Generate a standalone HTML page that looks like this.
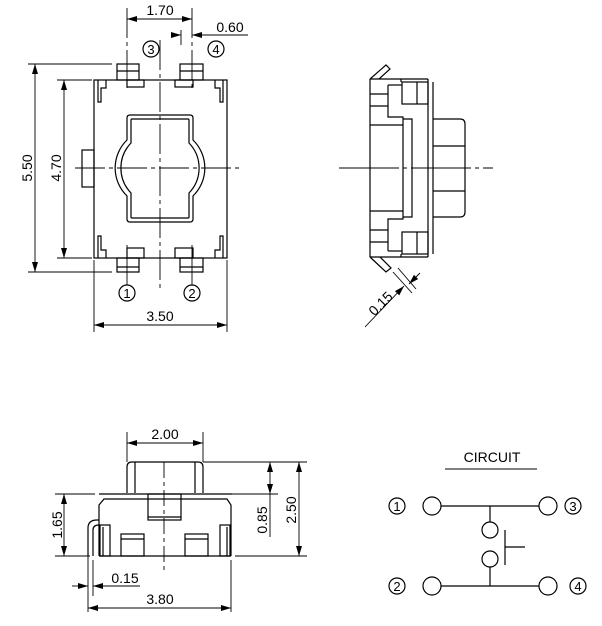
<!DOCTYPE html>
<html><head><meta charset="utf-8"><style>
html,body{margin:0;padding:0;background:#fff;}
svg{display:block;}
text{font-family:"Liberation Sans",sans-serif;font-size:14px;fill:#000;}
.c{font-size:13px;}
</style></head><body>
<svg width="602" height="626" viewBox="0 0 602 626" xmlns="http://www.w3.org/2000/svg">
<defs>
<marker id="a" viewBox="0 0 10 6" refX="10" refY="3" markerWidth="10" markerHeight="6" orient="auto-start-reverse" markerUnits="userSpaceOnUse"><path d="M0,0L10,3L0,6z" fill="#000"/></marker>
</defs>
<g fill="none" stroke="#000" stroke-width="1.2">
<!-- TOP VIEW -->
<rect x="94" y="80" width="133" height="178"/>
<rect x="117" y="64" width="22" height="16"/><line x1="117" y1="71" x2="139" y2="71"/>
<rect x="180" y="64" width="23" height="16"/><line x1="180" y1="71" x2="203" y2="71"/>
<rect x="127" y="80" width="17" height="7"/><rect x="175" y="80" width="18" height="7"/>
<rect x="117" y="258" width="22" height="14"/><line x1="117" y1="267" x2="139" y2="267"/>
<rect x="180" y="258" width="23" height="14"/><line x1="180" y1="267" x2="203" y2="267"/>
<rect x="127" y="248" width="17" height="10"/><rect x="175" y="248" width="18" height="10"/>
<polyline points="98,80 98,102 101,102 101,88 106,88 106,80"/>
<polyline points="223,80 223,102 220,102 220,88 215,88 215,80"/>
<polyline points="98,258 98,236 101,236 101,250 106,250 106,258"/>
<polyline points="223,258 223,236 220,236 220,250 215,250 215,258"/>
<rect x="82" y="150" width="12" height="37"/>
<path d="M130,115 H190 Q193,115 193,118 V140 A39,39 0 0 1 193,196 V219 Q193,222 190,222 H130 Q127,222 127,219 V196 A39,39 0 0 1 127,140 V118 Q127,115 130,115 Z"/>
<path d="M132,119 H188 Q189,119 189,120 V143 A36,36 0 0 1 189,193 V217 Q189,218 188,218 H132 Q131,218 131,217 V193 A36,36 0 0 1 131,143 V120 Q131,119 132,119 Z"/>
<g stroke-width="0.9">
<line x1="160" y1="40" x2="160" y2="292" stroke-dasharray="30,4,4,4"/>
<line x1="75" y1="168" x2="240" y2="168" stroke-dasharray="30,4,4,4"/>
<line x1="127" y1="8" x2="127" y2="90" stroke-dasharray="30,4,4,4"/>
<line x1="192" y1="8" x2="192" y2="90" stroke-dasharray="30,4,4,4"/>
<line x1="127" y1="245" x2="127" y2="285"/>
<line x1="192" y1="245" x2="192" y2="285"/>
<line x1="181" y1="30" x2="181" y2="45"/>
<line x1="127" y1="19" x2="192" y2="19" marker-start="url(#a)" marker-end="url(#a)"/>
<line x1="171" y1="35" x2="181" y2="35" marker-end="url(#a)"/>
<line x1="202" y1="35" x2="192" y2="35" marker-end="url(#a)"/>
<line x1="202" y1="35" x2="248" y2="35"/>
<line x1="28" y1="64" x2="112" y2="64"/><line x1="28" y1="272" x2="112" y2="272"/>
<line x1="35" y1="64" x2="35" y2="272" marker-start="url(#a)" marker-end="url(#a)"/>
<line x1="57" y1="80" x2="92" y2="80"/><line x1="57" y1="258" x2="92" y2="258"/>
<line x1="64" y1="80" x2="64" y2="258" marker-start="url(#a)" marker-end="url(#a)"/>
<line x1="94" y1="260" x2="94" y2="332"/><line x1="227" y1="260" x2="227" y2="332"/>
<line x1="94" y1="325" x2="227" y2="325" marker-start="url(#a)" marker-end="url(#a)"/>
</g>
<circle cx="151" cy="49" r="8"/><circle cx="216" cy="49" r="8"/>
<circle cx="127" cy="293" r="8"/><circle cx="192" cy="293" r="8"/>

<!-- SIDE VIEW -->
<line x1="370" y1="79" x2="370" y2="257"/>
<line x1="370" y1="79" x2="428" y2="79"/><line x1="370" y1="257" x2="428" y2="257"/>
<line x1="428" y1="79" x2="428" y2="257"/>
<line x1="433" y1="82" x2="433" y2="254"/>
<line x1="401" y1="79" x2="401" y2="82"/><line x1="401" y1="254" x2="401" y2="257"/>
<rect x="402" y="82" width="26" height="22"/><line x1="417" y1="82" x2="417" y2="104"/>
<rect x="402" y="232" width="26" height="22"/><line x1="417" y1="232" x2="417" y2="254"/>
<polyline points="388,85 388,117 403,117 403,219 388,219 388,251"/>
<polyline points="402,85 388,85"/><polyline points="402,251 388,251"/>
<polyline points="403,119 412,119 412,217 403,217"/>
<line x1="370" y1="125" x2="403" y2="125"/><line x1="370" y1="211" x2="403" y2="211"/>
<line x1="370" y1="94" x2="388" y2="94"/><line x1="370" y1="106" x2="388" y2="106"/>
<line x1="370" y1="230" x2="388" y2="230"/><line x1="370" y1="242" x2="388" y2="242"/>
<path d="M433,119 H460 Q465,119 465,124 V212 Q465,217 460,217 H433"/>
<line x1="433" y1="146" x2="465" y2="146"/><line x1="433" y1="191" x2="465" y2="191"/>
<polyline points="370,79 386,65 390,69 379,79"/>
<polyline points="370,257 386,272 391,268 380,257"/>
<g stroke-width="0.9">
<line x1="339" y1="168" x2="493" y2="168" stroke-dasharray="60,4,4,4"/>
<line x1="393" y1="272" x2="412" y2="293"/><line x1="398" y1="268" x2="416" y2="289"/>
<line x1="365" y1="327" x2="404" y2="286" marker-end="url(#a)"/>
<line x1="420" y1="273" x2="409" y2="284" marker-end="url(#a)"/>
</g>

<!-- FRONT VIEW -->
<path d="M127,493 V467 Q127,462 132,462 H198 Q203,462 203,467 V493"/>
<line x1="135" y1="462" x2="135" y2="493"/><line x1="195" y1="462" x2="195" y2="493"/>
<path d="M99,556 V505 L104,499 H227 L231,505 V556"/>
<line x1="99" y1="494" x2="232" y2="494"/>
<line x1="99" y1="556" x2="231" y2="556"/>
<rect x="148" y="494" width="33" height="26"/><line x1="148" y1="517" x2="181" y2="517"/>
<rect x="121" y="534" width="23" height="22"/><line x1="121" y1="539" x2="144" y2="539"/>
<rect x="185" y="534" width="23" height="22"/><line x1="185" y1="539" x2="208" y2="539"/>
<rect x="100" y="525" width="10" height="31"/><line x1="103" y1="527" x2="103" y2="556"/>
<rect x="220" y="525" width="10" height="31"/><line x1="227" y1="527" x2="227" y2="556"/>
<path d="M88,556 V528 Q88,520 97,520 H99"/><path d="M93,556 V530 Q93,525 99,525"/>
<g stroke-width="0.9">
<line x1="164" y1="462" x2="164" y2="573" stroke-dasharray="16,4,4,4"/>
<line x1="127" y1="432" x2="127" y2="462"/><line x1="203" y1="432" x2="203" y2="462"/>
<line x1="127" y1="443" x2="203" y2="443" marker-start="url(#a)" marker-end="url(#a)"/>
<line x1="203" y1="462" x2="307" y2="462"/>
<line x1="232" y1="494" x2="278" y2="494"/>
<line x1="235" y1="556" x2="307" y2="556"/>
<line x1="55" y1="494" x2="95" y2="494"/><line x1="55" y1="556" x2="90" y2="556"/>
<line x1="270" y1="462" x2="270" y2="494" marker-start="url(#a)" marker-end="url(#a)"/>
<line x1="270" y1="494" x2="270" y2="537"/>
<line x1="299" y1="462" x2="299" y2="556" marker-start="url(#a)" marker-end="url(#a)"/>
<line x1="64" y1="494" x2="64" y2="556" marker-start="url(#a)" marker-end="url(#a)"/>
<line x1="88" y1="556" x2="88" y2="612"/><line x1="93" y1="560" x2="93" y2="596"/>
<line x1="72" y1="586" x2="88" y2="586" marker-end="url(#a)"/>
<line x1="140" y1="586" x2="93" y2="586" marker-end="url(#a)"/>
<line x1="231" y1="560" x2="231" y2="612"/>
<line x1="88" y1="608" x2="231" y2="608" marker-start="url(#a)" marker-end="url(#a)"/>
</g>

<!-- CIRCUIT -->
<line x1="445" y1="469" x2="537" y2="469" stroke-width="0.9"/>
<circle cx="432" cy="506" r="9"/><circle cx="548" cy="506" r="9"/>
<circle cx="432" cy="586" r="9"/><circle cx="548" cy="586" r="9"/>
<circle cx="490" cy="530" r="8"/><circle cx="490" cy="559" r="8"/>
<line x1="441" y1="506" x2="539" y2="506"/><line x1="441" y1="586" x2="539" y2="586"/>
<line x1="490" y1="506" x2="490" y2="522"/><line x1="490" y1="567" x2="490" y2="586"/>
<line x1="505" y1="530" x2="505" y2="565"/><line x1="505" y1="547" x2="525" y2="547"/>
<circle cx="397" cy="506" r="8"/><circle cx="573" cy="506" r="8"/>
<circle cx="397" cy="586" r="8"/><circle cx="578" cy="586" r="8"/>
</g>
<g>
<text x="160" y="15" text-anchor="middle">1.70</text>
<text x="230" y="32" text-anchor="middle">0.60</text>
<text class="c" x="151" y="54" text-anchor="middle">3</text>
<text class="c" x="216" y="54" text-anchor="middle">4</text>
<text class="c" x="127" y="298" text-anchor="middle">1</text>
<text class="c" x="192" y="298" text-anchor="middle">2</text>
<text x="160" y="321" text-anchor="middle">3.50</text>
<text transform="translate(32,168) rotate(-90)" text-anchor="middle">5.50</text>
<text transform="translate(61,168) rotate(-90)" text-anchor="middle">4.70</text>
<text transform="translate(384,307) rotate(-45)" text-anchor="middle">0.15</text>
<text x="165" y="439" text-anchor="middle">2.00</text>
<text transform="translate(267,520) rotate(-90)" text-anchor="middle">0.85</text>
<text transform="translate(296,510) rotate(-90)" text-anchor="middle">2.50</text>
<text transform="translate(62,525) rotate(-90)" text-anchor="middle">1.65</text>
<text x="125" y="583" text-anchor="middle">0.15</text>
<text x="160" y="604" text-anchor="middle">3.80</text>
<text x="492" y="462" text-anchor="middle">CIRCUIT</text>
<text class="c" x="397" y="511" text-anchor="middle">1</text>
<text class="c" x="573" y="511" text-anchor="middle">3</text>
<text class="c" x="397" y="591" text-anchor="middle">2</text>
<text class="c" x="578" y="591" text-anchor="middle">4</text>
</g>
</svg>
</body></html>
